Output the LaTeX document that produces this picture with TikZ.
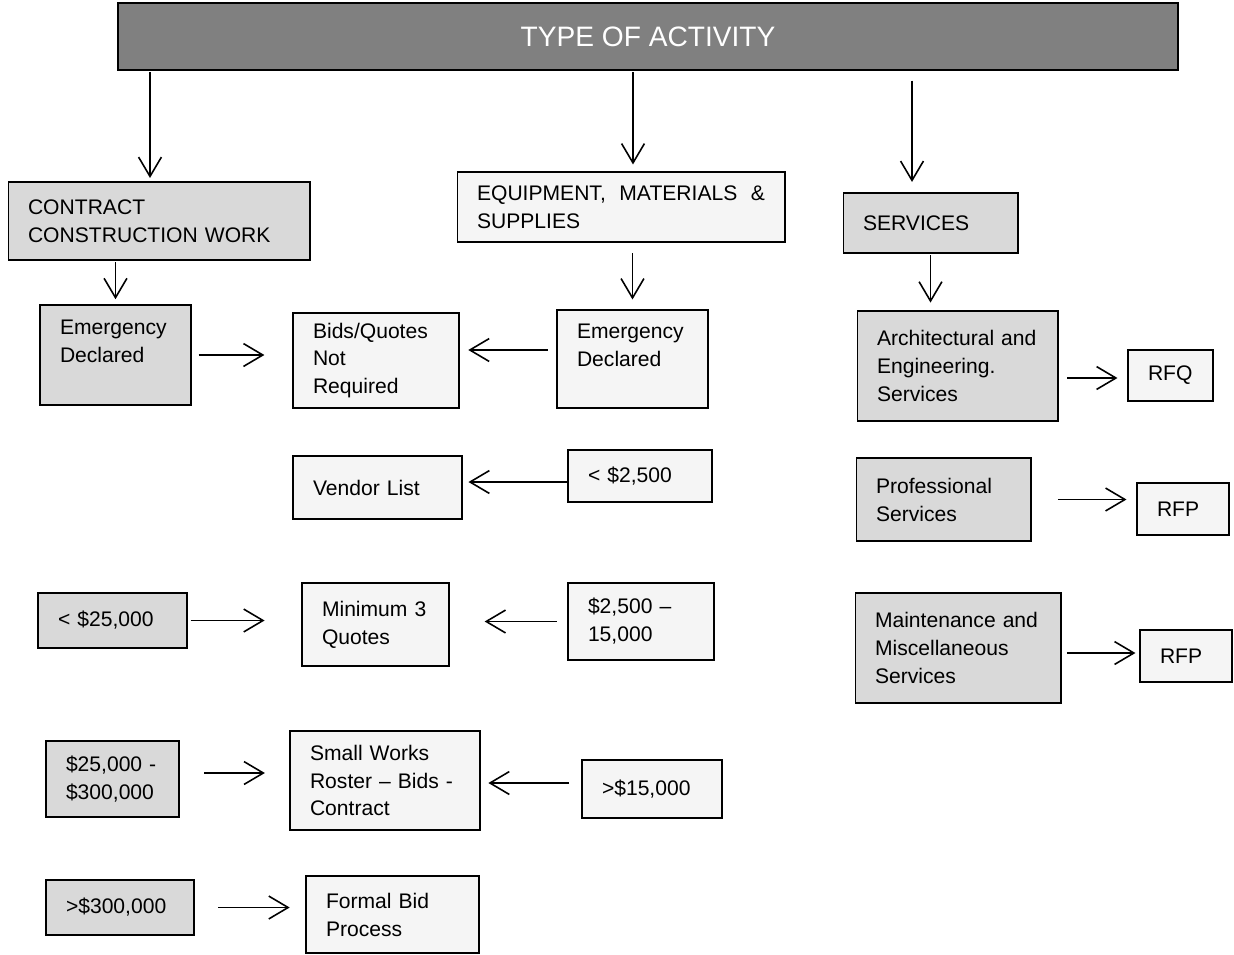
\documentclass[tikz,border=0pt]{standalone}
\usepackage{fontspec}
\setmainfont{Liberation Sans}
\usetikzlibrary{arrows.meta}

\begin{document}
\begin{tikzpicture}[x=0.02cm, y=-0.02cm, >={Straight Barb[length=11pt,width=13pt]}]

  % Set up styles for the boxes and the links
  \tikzset{
      box/.style={draw, line width=0.6pt, rectangle, align=left, inner xsep=0.4cm, inner ysep=2pt,
                  font=\fontsize{12}{15.9}\selectfont},
      shaded/.style={box, fill=gray!30},
      plain/.style={box, fill=gray!8},
      link/.style={->, line width=0.9pt}
  }

  \useasboundingbox (0,0) rectangle (1234,954);

  % Top banner
  \node[draw, line width=0.8pt, fill=black!50, minimum width=21.2cm, minimum height=1.34cm,
        text=white, font=\fontsize{16}{19}\selectfont] (activity) at (648,36.5) {TYPE OF ACTIVITY};

  % The three kinds of activity
  \node[shaded, text width=5.24cm, minimum height=1.56cm] (contract) at (159,221) {CONTRACT\\CONSTRUCTION WORK};
  \node[plain, text width=5.76cm, minimum height=1.4cm, align=justify] (equip) at (621,207) {EQUIPMENT, MATERIALS \& SUPPLIES};
  \node[shaded, text width=2.70cm, minimum height=1.2cm] (services) at (930.5,223) {SERVICES};

  % Contract construction work column
  \node[shaded, text width=2.22cm, minimum height=2.0cm] (emL) at (115.5,355) {Emergency\\Declared\\\mbox{}};
  \node[shaded, text width=2.18cm, minimum height=1.1cm] (lt25k) at (112.5,620.5) {< \$25,000};
  \node[shaded, text width=1.86cm, minimum height=1.52cm] (r25k) at (112.5,779) {\$25,000 -\\\$300,000};
  \node[shaded, text width=2.16cm, minimum height=1.1cm] (gt300k) at (120,907.5) {>\$300,000};

  % Outcomes in the middle
  \node[plain, text width=2.52cm, minimum height=1.9cm] (bids) at (376,360.5) {Bids/Quotes\\Not\\Required};
  \node[plain, text width=2.58cm, minimum height=1.26cm] (vendor) at (377.5,487.5) {Vendor List};
  \node[plain, text width=2.14cm, minimum height=1.66cm] (min3) at (375.5,624.5) {Minimum 3\\Quotes};
  \node[plain, text width=3.00cm, minimum height=1.98cm] (small) at (385,780.5) {Small Works\\Roster -- Bids -\\Contract};
  \node[plain, text width=2.66cm, minimum height=1.54cm] (formal) at (392.5,914.5) {Formal Bid\\Process};

  % Equipment, materials and supplies column
  \node[plain, text width=2.22cm, minimum height=1.96cm] (emM) at (632.5,359) {Emergency\\Declared\\\mbox{}};
  \node[plain, text width=2.08cm, minimum height=1.04cm] (lt2500) at (640,476) {< \$2,500};
  \node[plain, text width=2.12cm, minimum height=1.54cm] (r2500) at (641,621.5) {\$2,500 --\\15,000};
  \node[plain, text width=2.00cm, minimum height=1.16cm] (gt15k) at (652,789) {>\$15,000};

  % Services column
  \node[shaded, text width=3.22cm, minimum height=2.2cm] (arch) at (957.5,366) {Architectural and\\Engineering.\\Services};
  \node[shaded, text width=2.70cm, minimum height=1.66cm] (prof) at (943.5,499.5) {Professional\\Services};
  \node[shaded, text width=3.32cm, minimum height=2.2cm] (maint) at (958,648) {Maintenance and\\Miscellaneous\\Services};
  \node[plain, text width=0.90cm, minimum height=1.02cm] (rfq) at (1170.5,375.5) {RFQ};
  \node[plain, text width=1.04cm, minimum height=1.04cm] (rfpA) at (1183,509) {RFP};
  \node[plain, text width=1.04cm, minimum height=1.04cm] (rfpB) at (1186,656) {RFP};

  % Links down from the banner
  \coordinate (c1) at ([xshift=-0.18cm]contract.north);
  \coordinate (c2) at ([xshift=0.24cm]equip.north);
  \coordinate (c3) at ([xshift=-0.37cm]services.north);
  \draw[link, shorten <=1pt, shorten >=2pt] (activity.south -| c1) -- (c1);
  \draw[link, shorten <=1pt, shorten >=4pt] (activity.south -| c2) -- (c2);
  \draw[link, shorten <=5.7pt, shorten >=6pt] (activity.south -| c3) -- (c3);

  % Links down from each kind
  \draw[link, shorten <=1pt, shorten >=3pt] (contract.south -| emL.north) -- (emL.north);
  \draw[link, shorten <=6pt, shorten >=5.7pt] (equip.south -| emM.north) -- (emM.north);
  \draw[link, shorten <=1pt, shorten >=4.5pt] (services.south) -- (services.south |- arch.north);

  % Links across
  \draw[link, shorten <=4pt, shorten >=16pt] (emL.east) -- (emL.east -| bids.west);
  \draw[link, shorten <=5pt, shorten >=5pt] ([yshift=0.18cm]emM.west) -- ([yshift=0.18cm]emM.west -| bids.east);
  \draw[link, shorten >=3.4pt] ([yshift=-0.12cm]lt2500.west) -- ([yshift=-0.12cm]lt2500.west -| vendor.east);
  \draw[link, shorten <=1.7pt, shorten >=21pt] (lt25k.east) -- (lt25k.east -| min3.west);
  \draw[link, shorten <=6pt, shorten >=20pt] (r2500.west) -- (r2500.west -| min3.east);
  \draw[link, shorten <=14pt, shorten >=14pt] ([yshift=0.12cm]r25k.east) -- ([yshift=0.12cm]r25k.east -| small.west);
  \draw[link, shorten <=7pt, shorten >=4.5pt] ([yshift=0.12cm]gt15k.west) -- ([yshift=0.12cm]gt15k.west -| small.east);
  \draw[link, shorten <=13.6pt, shorten >=9pt] (gt300k.east) -- (gt300k.east -| formal.west);
  \draw[link, shorten <=5pt, shorten >=5.7pt] ([yshift=-0.24cm]arch.east) -- ([yshift=-0.24cm]arch.east -| rfq.west);
  \draw[link, shorten <=15pt, shorten >=5.7pt] (prof.east) -- (prof.east -| rfpA.west);
  \draw[link, shorten <=3pt, shorten >=2.3pt] ([yshift=-0.1cm]maint.east) -- ([yshift=-0.1cm]maint.east -| rfpB.west);

\end{tikzpicture}
\end{document}
